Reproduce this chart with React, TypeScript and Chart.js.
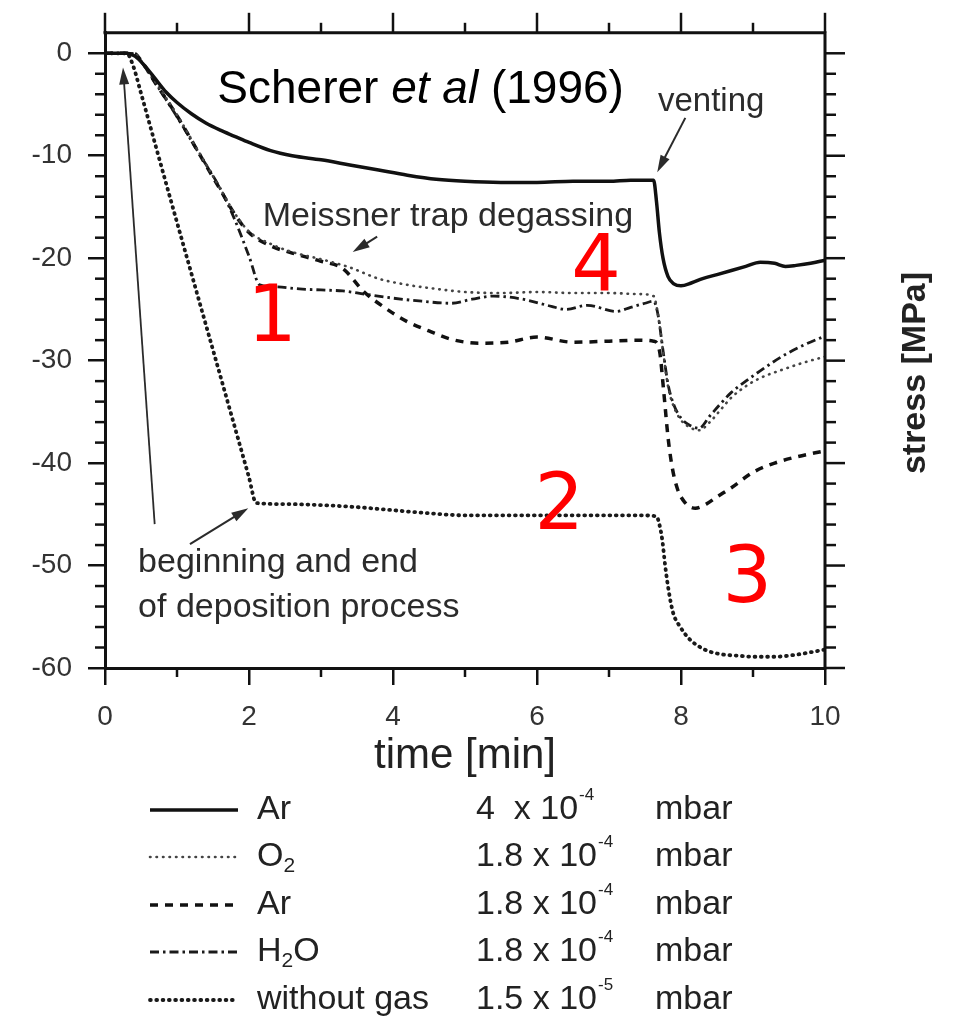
import React, { useEffect, useRef } from "react";
import { Chart, registerables } from "chart.js";

Chart.register(...registerables);

const FONT = "'Liberation Sans', Arial, Helvetica, sans-serif";

// ---------- axis ticks ----------
const xTicks = [0, 2, 4, 6, 8, 10];
const yTicks = [-60, -50, -40, -30, -20, -10, 0];

// ---------- series: Ar 4 x 10^-4 mbar (solid) ----------
const tAr4 = [0, 0.3, 0.42, 0.55, 0.7, 0.85, 1.0, 1.2, 1.4, 1.6, 1.8, 2.0, 2.3, 2.6, 3.0, 3.4, 3.8, 4.2, 4.6, 5.0, 5.5, 6.0, 6.5, 7.0, 7.3, 7.62, 7.66, 7.7, 7.75, 7.82, 7.9, 8.0, 8.15, 8.3, 8.5, 8.7, 8.9, 9.1, 9.3, 9.45, 9.6, 9.8, 10];
const vAr4 = [0, 0, -0.3, -1.2, -2.5, -3.8, -4.8, -5.9, -6.8, -7.5, -8.1, -8.7, -9.5, -10.0, -10.4, -10.9, -11.4, -11.9, -12.3, -12.5, -12.6, -12.6, -12.5, -12.5, -12.4, -12.4, -14.5, -17.5, -20.0, -21.8, -22.5, -22.7, -22.4, -22.0, -21.6, -21.2, -20.8, -20.4, -20.5, -20.8, -20.7, -20.5, -20.2];

// ---------- series: O2 1.8 x 10^-4 mbar (fine dotted) ----------
const tO2 = [0, 0.4, 0.5, 0.7, 1.0, 1.3, 1.6, 1.8, 2.0, 2.3, 2.6, 3.0, 3.4, 3.8, 4.2, 4.6, 5.0, 5.5, 6.0, 6.5, 7.0, 7.4, 7.62, 7.68, 7.75, 7.82, 7.9, 8.0, 8.12, 8.25, 8.4, 8.55, 8.7, 8.9, 9.1, 9.4, 9.7, 10];
const vO2 = [0, 0, -0.7, -2.8, -6.0, -9.6, -13.2, -15.6, -17.4, -18.6, -19.4, -20.1, -20.9, -22.0, -22.6, -23.0, -23.3, -23.4, -23.3, -23.4, -23.4, -23.5, -23.7, -25.5, -29.0, -32.5, -34.5, -35.8, -36.5, -36.8, -36.0, -34.8, -33.6, -32.5, -31.7, -30.9, -30.2, -29.6];

// ---------- series: Ar 1.8 x 10^-4 mbar (dashed) ----------
const tAr18 = [0, 0.4, 0.5, 0.7, 1.0, 1.3, 1.6, 1.8, 2.0, 2.3, 2.6, 3.0, 3.3, 3.6, 3.9, 4.2, 4.5, 4.8, 5.2, 5.6, 6.0, 6.5, 7.0, 7.4, 7.62, 7.7, 7.76, 7.82, 7.88, 7.95, 8.05, 8.2, 8.35, 8.5, 8.7, 9.0, 9.3, 9.6, 10];
const vAr18 = [0, 0, -0.7, -2.9, -6.1, -9.7, -13.3, -15.7, -17.5, -18.8, -19.5, -20.3, -21.0, -23.3, -24.9, -26.2, -27.1, -27.9, -28.3, -28.2, -27.7, -28.2, -28.1, -28.0, -28.1, -29.0, -33.0, -37.5, -40.5, -42.5, -43.8, -44.4, -44.0, -43.3, -42.4, -40.9, -40.0, -39.4, -38.8];

// ---------- series: H2O 1.8 x 10^-4 mbar (dash-dot) ----------
const tH2O = [0, 0.4, 0.5, 0.7, 1.0, 1.3, 1.6, 1.8, 2.0, 2.15, 2.4, 2.7, 3.0, 3.3, 3.6, 4.0, 4.4, 4.8, 5.1, 5.4, 5.8, 6.2, 6.4, 6.7, 7.1, 7.3, 7.5, 7.62, 7.68, 7.75, 7.82, 7.9, 8.0, 8.12, 8.25, 8.4, 8.55, 8.7, 8.9, 9.1, 9.4, 9.7, 10];
const vH2O = [0, 0, -0.8, -2.9, -6.2, -9.7, -13.2, -16.2, -19.8, -22.6, -22.8, -23.0, -23.1, -23.2, -23.5, -23.9, -24.2, -24.4, -24.0, -23.7, -24.0, -24.7, -25.0, -24.6, -25.2, -24.8, -24.4, -24.2, -25.5, -29.0, -32.3, -34.3, -35.6, -36.3, -36.6, -35.4, -34.2, -33.1, -32.0, -31.0, -29.6, -28.5, -27.6];

// ---------- series: without gas 1.5 x 10^-5 mbar (dotted) ----------
const tNoGas = [0, 0.3, 0.39, 0.5, 0.9, 1.55, 2.0, 2.1, 2.5, 3.0, 3.5, 4.0, 4.5, 5.0, 5.5, 6.0, 6.5, 7.0, 7.4, 7.66, 7.7, 7.74, 7.78, 7.83, 7.89, 7.99, 8.12, 8.25, 8.4, 8.6, 8.8, 9.0, 9.3, 9.6, 9.85, 10];
const vNoGas = [0, 0, -1.2, -3.9, -14.0, -30.2, -41.4, -43.9, -44.0, -44.1, -44.3, -44.6, -44.9, -45.1, -45.1, -45.1, -45.1, -45.1, -45.1, -45.2, -46.0, -47.5, -50.0, -52.5, -54.6, -56.0, -57.2, -57.9, -58.4, -58.7, -58.8, -58.9, -58.9, -58.7, -58.4, -58.2];

// ---------- legend texts ----------
const legendGas = ["Ar", "O₂", "Ar", "H₂O", "without gas"];
const legendMantissa = ["4  x 10", "1.8 x 10", "1.8 x 10", "1.8 x 10", "1.5 x 10"];
const legendExponent = ["-4", "-4", "-4", "-4", "-5"];
const legendUnit = "mbar";

const toXY = (t: number[], v: number[]) => t.map((x, i) => ({ x, y: v[i] }));

function drawChem(ctx: CanvasRenderingContext2D, text: string, x: number, y: number, size: number) {
  let cx = x;
  for (const ch of text) {
    if (ch === "₂") {
      ctx.font = `${Math.round(size * 0.62)}px ${FONT}`;
      ctx.fillText("2", cx, y + size * 0.28);
      cx += ctx.measureText("2").width;
      ctx.font = `${size}px ${FONT}`;
    } else {
      ctx.fillText(ch, cx, y);
      cx += ctx.measureText(ch).width;
    }
  }
}

function drawArrow(ctx: CanvasRenderingContext2D, x1: number, y1: number, x2: number, y2: number, lw: number) {
  const ang = Math.atan2(y2 - y1, x2 - x1);
  const L = 17, W = 5;
  ctx.lineWidth = lw;
  ctx.beginPath();
  ctx.moveTo(x1, y1);
  ctx.lineTo(x2 - Math.cos(ang) * 6, y2 - Math.sin(ang) * 6);
  ctx.stroke();
  ctx.beginPath();
  ctx.moveTo(x2, y2);
  ctx.lineTo(x2 - L * Math.cos(ang) + W * Math.sin(ang), y2 - L * Math.sin(ang) - W * Math.cos(ang));
  ctx.lineTo(x2 - L * Math.cos(ang) - W * Math.sin(ang), y2 - L * Math.sin(ang) + W * Math.cos(ang));
  ctx.closePath();
  ctx.fill();
}

// frame, minor ticks, annotations and the legend table
const decorPlugin = {
  id: "decor",
  afterDraw(chart: any) {
    const { ctx, chartArea: a, scales } = chart;
    const xs = scales.x;
    const ys = scales.y;
    const X = (t: number) => xs.getPixelForValue(t);
    const Y = (v: number) => ys.getPixelForValue(v);
    ctx.save();

    // top & right frame
    ctx.strokeStyle = "#111";
    ctx.lineWidth = 3;
    ctx.beginPath();
    ctx.moveTo(a.left - 1.5, a.top);
    ctx.lineTo(a.right, a.top);
    ctx.lineTo(a.right, a.bottom + 1.5);
    ctx.stroke();

    // ticks on the frame and minor ticks
    ctx.lineWidth = 2.5;
    const seg = (x1: number, y1: number, x2: number, y2: number) => {
      ctx.beginPath();
      ctx.moveTo(x1, y1);
      ctx.lineTo(x2, y2);
      ctx.stroke();
    };
    for (let t = 0; t <= 10; t++) {
      const px = X(t);
      const major = t % 2 === 0;
      seg(px, a.top, px, a.top - (major ? 20 : 10));
      if (!major) seg(px, a.bottom, px, a.bottom + 9);
    }
    for (let v = -60; v <= 0; v += 2) {
      const py = Y(v);
      const major = v % 10 === 0;
      seg(a.right, py, a.right + (major ? 20 : 11), py);
      if (!major) seg(a.left, py, a.left - 10, py);
    }

    // title
    ctx.fillStyle = "#000";
    ctx.textBaseline = "alphabetic";
    ctx.textAlign = "left";
    let tx = X(1.56);
    const ty = Y(-4.86);
    ctx.font = `46px ${FONT}`;
    ctx.fillText("Scherer ", tx, ty);
    tx += ctx.measureText("Scherer ").width;
    ctx.font = `italic 46px ${FONT}`;
    ctx.fillText("et al", tx, ty);
    tx += ctx.measureText("et al").width;
    ctx.font = `46px ${FONT}`;
    ctx.fillText(" (1996)", tx, ty);

    // grey annotations
    ctx.fillStyle = "#2b2b2b";
    ctx.strokeStyle = "#2b2b2b";
    ctx.font = `33px ${FONT}`;
    ctx.fillText("venting", X(7.68), Y(-5.64));
    ctx.font = `34px ${FONT}`;
    ctx.fillText("Meissner trap degassing", X(2.19), Y(-16.86));
    ctx.fillText("beginning and end", X(0.46), Y(-50.6));
    ctx.fillText("of deposition process", X(0.46), Y(-55.05));

    drawArrow(ctx, X(8.06), Y(-6.3), X(7.67), Y(-11.6), 2);
    drawArrow(ctx, X(3.78), Y(-17.9), X(3.44), Y(-19.4), 2);
    drawArrow(ctx, X(0.69), Y(-45.96), X(0.25), Y(-1.38), 1.8);
    drawArrow(ctx, X(1.18), Y(-47.9), X(1.99), Y(-44.4), 2);

    // red region numbers
    ctx.fillStyle = "#ff0000";
    ctx.textAlign = "center";
    ctx.font = `78px 'DejaVu Sans', ${FONT}`;
    ctx.fillText("1", X(2.32), Y(-28.07));
    ctx.fillText("2", X(6.31), Y(-46.45));
    ctx.fillText("3", X(8.92), Y(-53.6));
    ctx.fillText("4", X(6.82), Y(-23.2));

    // right-hand axis label
    ctx.save();
    ctx.translate(a.right + 91, 373);
    ctx.rotate(-Math.PI / 2);
    ctx.fillStyle = "#222";
    ctx.font = `bold 34px ${FONT}`;
    ctx.textBaseline = "middle";
    ctx.fillText("stress [MPa]", 0, 0);
    ctx.restore();

    // legend table
    const rows = [810, 857, 905, 952, 1000];
    ctx.textAlign = "left";
    ctx.textBaseline = "middle";
    chart.data.datasets.forEach((ds: any, i: number) => {
      const ry = rows[i];
      ctx.save();
      ctx.strokeStyle = ds.borderColor;
      ctx.lineWidth = ds.borderWidth;
      ctx.lineCap = ds.borderCapStyle || "butt";
      ctx.setLineDash(ds.borderDash || []);
      ctx.beginPath();
      ctx.moveTo(150, ry);
      ctx.lineTo(238, ry);
      ctx.stroke();
      ctx.restore();
      ctx.fillStyle = "#222";
      ctx.font = `34px ${FONT}`;
      drawChem(ctx, legendGas[i], 257, ry, 34);
      ctx.font = `34px ${FONT}`;
      ctx.fillText(legendMantissa[i], 476, ry);
      const mw = ctx.measureText(legendMantissa[i]).width;
      ctx.font = `17px ${FONT}`;
      ctx.fillText(legendExponent[i], 476 + mw + 1, ry - 15);
      ctx.font = `34px ${FONT}`;
      ctx.fillText(legendUnit, 655, ry);
    });

    ctx.restore();
  },
};

export default function App() {
  const ref = useRef<HTMLCanvasElement | null>(null);

  useEffect(() => {
    if (!ref.current) return;
    Chart.defaults.font.family = FONT;
    const common = { pointRadius: 0, fill: false, cubicInterpolationMode: "monotone" as const };
    const chart = new Chart(ref.current, {
      type: "line",
      data: {
        datasets: [
          { label: "Ar 4e-4", data: toXY(tAr4, vAr4), borderColor: "#111", borderWidth: 3.5, borderDash: [], borderCapStyle: "butt", ...common },
          { label: "O2", data: toXY(tO2, vO2), borderColor: "#444", borderWidth: 2.6, borderDash: [0.5, 6], borderCapStyle: "round", ...common },
          { label: "Ar 1.8e-4", data: toXY(tAr18, vAr18), borderColor: "#111", borderWidth: 3.5, borderDash: [8, 7], borderCapStyle: "butt", ...common },
          { label: "H2O", data: toXY(tH2O, vH2O), borderColor: "#1a1a1a", borderWidth: 2.8, borderDash: [9, 4, 2.5, 4], borderCapStyle: "butt", ...common },
          { label: "without gas", data: toXY(tNoGas, vNoGas), borderColor: "#1a1a1a", borderWidth: 3.8, borderDash: [0.8, 5.5], borderCapStyle: "round", ...common },
        ] as any,
      },
      options: {
        animation: false,
        responsive: false,
        maintainAspectRatio: false,
        devicePixelRatio: 1,
        events: [],
        layout: { padding: { top: 27, right: 131, bottom: 237, left: 0 } },
        plugins: { legend: { display: false }, tooltip: { enabled: false } },
        scales: {
          x: {
            type: "linear",
            min: 0,
            max: 10,
            afterBuildTicks: (s: any) => {
              s.ticks = xTicks.map((v) => ({ value: v }));
            },
            afterFit: (s: any) => {
              s.height = 114;
            },
            grid: { drawOnChartArea: false, drawTicks: true, tickLength: 17, lineWidth: 2.5, color: "#111" },
            border: { display: true, width: 3, color: "#111" },
            ticks: { padding: 15, autoSkip: false, maxRotation: 0, color: "#333", font: { size: 28, family: FONT } },
            title: { display: true, text: "time [min]", color: "#222", padding: 0, font: { size: 42, family: FONT } },
          },
          y: {
            type: "linear",
            min: -60,
            max: 2,
            afterBuildTicks: (s: any) => {
              s.ticks = yTicks.map((v) => ({ value: v }));
            },
            afterFit: (s: any) => {
              s.width = 105;
            },
            grid: { drawOnChartArea: false, drawTicks: true, tickLength: 17, lineWidth: 2.5, color: "#111" },
            border: { display: true, width: 3, color: "#111" },
            ticks: { padding: 16, color: "#333", font: { size: 28, family: FONT } },
          },
        },
      } as any,
      plugins: [decorPlugin],
    });
    return () => chart.destroy();
  }, []);

  return (
    <div style={{ position: "fixed", left: 0, top: 0, width: 956, height: 1019, background: "#fff" }}>
      <canvas ref={ref} width={956} height={1019} style={{ display: "block", width: 956, height: 1019 }} />
    </div>
  );
}
